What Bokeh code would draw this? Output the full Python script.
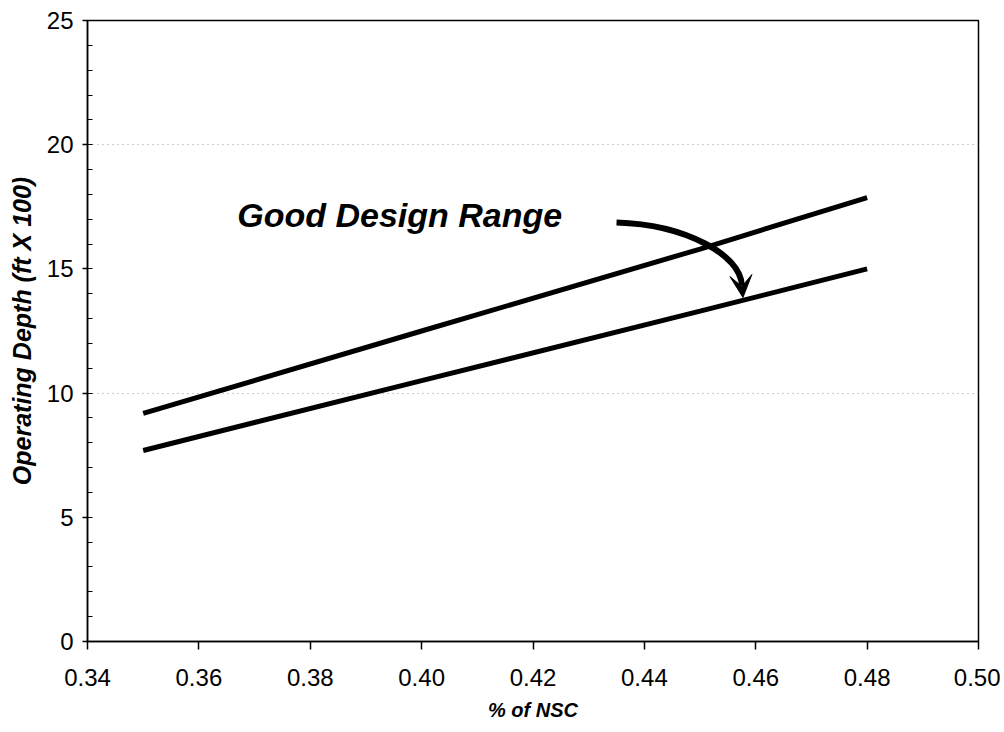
from bokeh.plotting import figure
from bokeh.models import (FixedTicker, SingleIntervalTicker, PrintfTickFormatter, Range1d,
                          Label, Arrow, VeeHead)
from bokeh.embed import file_html
from bokeh.resources import INLINE

# data
x_vals = [0.35, 0.40, 0.45, 0.48]
upper_depth = [9.18, 12.5, 15.8, 17.87]
lower_depth = [7.69, 10.5, 13.3, 15.0]
x_ticks = [0.34, 0.36, 0.38, 0.40, 0.42, 0.44, 0.46, 0.48, 0.50]
annotation = "Good Design Range"
y_title = "Operating Depth (ft X 100)"
x_title = "% of NSC"

p = figure(width=1000, height=730, output_backend="svg", toolbar_location=None,
           x_range=Range1d(0.34, 0.50), y_range=Range1d(0, 25),
           min_border_left=87, min_border_right=22, min_border_top=20, min_border_bottom=89)

p.background_fill_color = "white"
p.border_fill_color = "white"
p.outline_line_color = "black"
p.outline_line_width = 1.5

# axes
p.xaxis.ticker = FixedTicker(ticks=x_ticks)
p.xaxis.formatter = PrintfTickFormatter(format="%.2f")
p.yaxis.ticker = SingleIntervalTicker(interval=5, num_minor_ticks=5)
for ax in (p.xaxis[0], p.yaxis[0]):
    ax.axis_line_color = "black"
    ax.axis_line_width = 1.5
    ax.major_tick_line_color = "black"
    ax.major_tick_line_width = 1.5
    ax.major_tick_in = 0
    ax.major_label_text_font = "Liberation Sans"
    ax.major_label_text_font_size = "24px"
    ax.major_label_text_color = "black"
    ax.axis_label_text_font = "Liberation Sans"
    ax.axis_label_text_font_style = "bold italic"
    ax.axis_label_text_color = "black"
p.xaxis.major_tick_out = 8
p.yaxis.major_tick_out = 5
p.xaxis.minor_tick_line_color = None
p.yaxis.minor_tick_line_color = "black"
p.yaxis.minor_tick_in = 5
p.yaxis.minor_tick_out = 0
p.xaxis.major_label_standoff = 19
p.yaxis.major_label_standoff = 9
p.xaxis.axis_label = x_title
p.yaxis.axis_label = y_title
p.xaxis.axis_label_text_font_size = "20px"
p.yaxis.axis_label_text_font_size = "25px"
p.xaxis.axis_label_standoff = 10
p.yaxis.axis_label_standoff = 8

# grid
p.xgrid.grid_line_color = None
p.ygrid.ticker = FixedTicker(ticks=[10, 20])
p.ygrid.grid_line_color = "#999999"
p.ygrid.grid_line_dash = "1 4"
p.ygrid.grid_line_width = 1

# lines
p.line(x_vals, upper_depth, line_color="black", line_width=5)
p.line(x_vals, lower_depth, line_color="black", line_width=5)

# annotation text
p.add_layout(Label(x=0.3669, y=17.15, text=annotation, text_font="Liberation Sans",
                   text_font_style="bold italic", text_font_size="34px",
                   text_color="black", text_baseline="alphabetic", text_align="left"))

# curved arrow
x0, y0 = 0.435, 16.87
x1, y1 = 0.4575, 14.33
p.bezier(x0=[x0], y0=[y0], x1=[x1], y1=[y1], cx0=[0.4475], cy0=[16.79],
         cx1=[0.4574], cy1=[15.54], line_color="black", line_width=6)
p.add_layout(Arrow(x_start=x1, y_start=y1, x_end=0.4577, y_end=13.85,
                   line_color="black", line_width=6,
                   end=VeeHead(size=22, fill_color="black", line_color="black")))

open("out.html", "w").write(file_html(p, INLINE))
